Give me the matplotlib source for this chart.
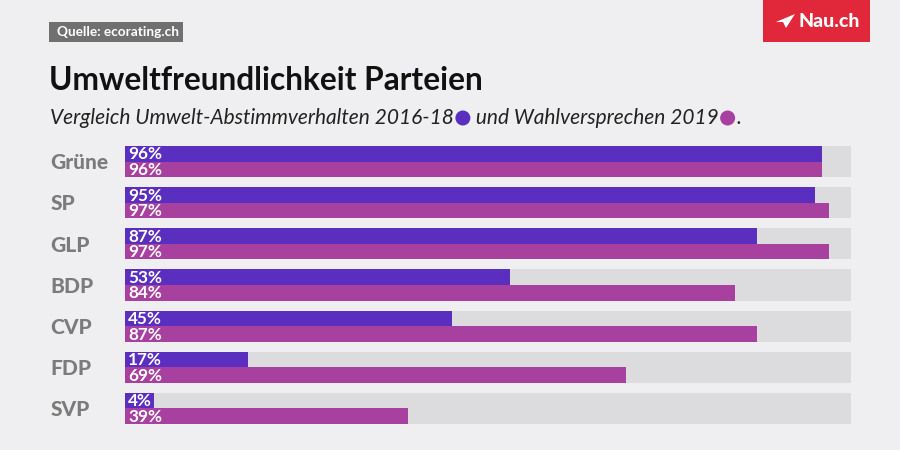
import matplotlib
matplotlib.use("Agg")
import matplotlib.pyplot as plt
from matplotlib.patches import Rectangle, Polygon, Ellipse

parties = ["Grüne", "SP", "GLP", "BDP", "CVP", "FDP", "SVP"]
abstimm = [96, 95, 87, 53, 45, 17, 4]
wahl = [96, 97, 97, 84, 87, 69, 39]

C_PURPLE = "#5a2fc0"
C_MAGENTA = "#a8409f"
C_TRACK = "#dcdcdf"
C_BG = "#efeff1"
C_LABEL = "#7b7b7b"

plt.rcParams['font.family'] = ['Lato', 'DejaVu Sans']

W, H = 900, 450
fig = plt.figure(figsize=(9, 4.5), dpi=100, facecolor=C_BG)

def px(x, y):
    return x / W, 1 - y / H

# axes region
left, right, top, bottom = 125, 851, 146, 424
ax = fig.add_axes([left / W, 1 - bottom / H, (right - left) / W, (bottom - top) / H])
ax.set_facecolor(C_BG)
half = 0.378
ax.set_xlim(0, 100)
ax.set_ylim(len(parties) - 1 + half, -half)
ax.axis("off")

for i, (p, a, w) in enumerate(zip(parties, abstimm, wahl)):
    ax.barh(i, 100, height=2 * half, color=C_TRACK, linewidth=0)
    ax.barh(i - half / 2, a, height=half, color=C_PURPLE, linewidth=0)
    ax.barh(i + half / 2, w, height=half, color=C_MAGENTA, linewidth=0)
    ax.text(0.45, i - half / 2 + 0.015, f"{a}%", color="white", fontsize=12.3, fontweight="bold",
            va="center", ha="left")
    ax.text(0.45, i + half / 2 + 0.015, f"{w}%", color="white", fontsize=12.3, fontweight="bold",
            va="center", ha="left")
    ax.text(-10.3, i + 0.03, p, color=C_LABEL, fontsize=15, fontweight="black", va="center", ha="left")

# Source box
fig.patches.append(Rectangle(px(49, 42), 134 / W, 20 / H, transform=fig.transFigure,
                             facecolor="#707070", edgecolor="none"))
fig.text(*px(57, 32.5), "Quelle: ecorating.ch", color="white", fontsize=9.8, fontweight="bold",
         va="center", ha="left")

# Logo
fig.patches.append(Rectangle(px(763, 42), 107 / W, 42 / H, transform=fig.transFigure,
                             facecolor="#e0283a", edgecolor="none"))
plane = [(776, 22), (795, 14), (786, 28), (783, 22)]
fig.patches.append(Polygon([px(x, y) for x, y in plane], closed=True, transform=fig.transFigure,
                           facecolor="white", edgecolor="none"))
fig.text(*px(799, 21.5), "Nau.ch", color="white", fontsize=14, fontweight="black",
         va="center", ha="left")

# Title
fig.text(*px(49, 80), "Umweltfreundlichkeit Parteien", color="#111111", fontsize=22.8,
         fontweight="bold", va="center", ha="left")

# Subtitle with dots
renderer = fig.canvas.get_renderer()
x = 50
y = 118
parts = [("Vergleich Umwelt-Abstimmverhalten 2016-18", C_PURPLE),
         (" und Wahlversprechen 2019", C_MAGENTA)]
for s, col in parts:
    t = fig.text(*px(x, y), s, color="#222222", fontsize=15, style="italic",
                 va="center", ha="left")
    bb = t.get_window_extent(renderer=renderer)
    x = bb.x1 + 9
    fig.patches.append(Ellipse(px(x, y), width=15 / W, height=15 / H, transform=fig.transFigure,
                               facecolor=col, edgecolor="none"))
    x += 8
fig.text(*px(x + 1, y), ".", color="#222222", fontsize=15, style="italic", va="center", ha="left")

fig.savefig("out.png", dpi=100, facecolor=C_BG)
